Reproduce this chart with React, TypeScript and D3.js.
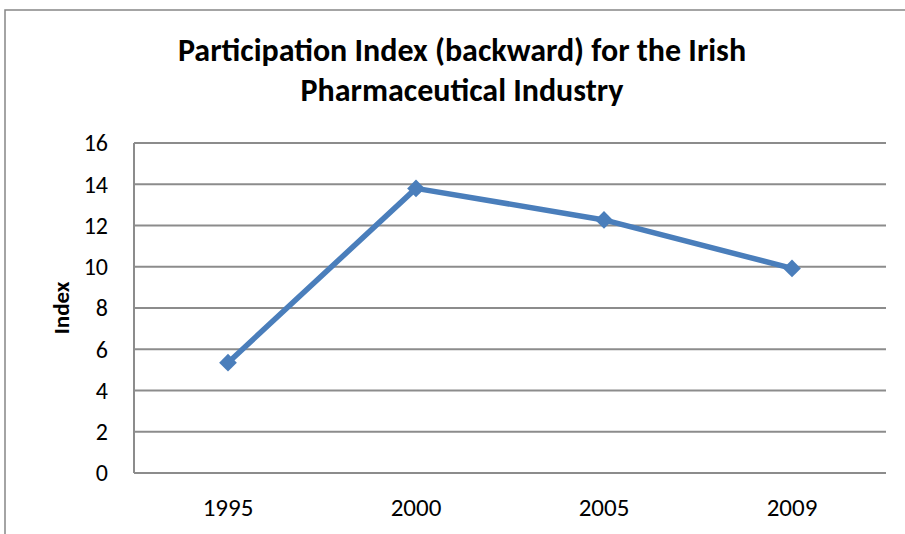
import React from 'react';
import * as d3 from 'd3';

const years = ['1995', '2000', '2005', '2009'];
const indexValues = [5.35, 13.8, 12.27, 9.92];
const yTicks = [0, 2, 4, 6, 8, 10, 12, 14, 16];
const titleLines = ['Participation Index (backward) for the Irish', 'Pharmaceutical Industry'];

const W = 905;
const H = 534;
const margin = { top: 143, right: 19, bottom: 61, left: 134 };
const font = 'Carlito, Calibri, "Open Sans", sans-serif';

export default function App() {
  const x = d3.scaleBand()
    .domain(years)
    .range([margin.left, W - margin.right]);

  const y = d3.scaleLinear()
    .domain([0, 16])
    .range([H - margin.bottom, margin.top]);

  const line = d3.line<number>()
    .x((d, i) => x(years[i])! + x.bandwidth() / 2)
    .y(d => y(d));

  const diamond = d3.symbol().type(d3.symbolDiamond2).size(200)();

  return (
    <svg width={W} height={H} style={{ position: 'absolute', left: 0, top: 0, background: '#fff' }}>
      {/* outer chart frame */}
      <rect x={5} y={10} width={W + 10} height={H + 10} fill="none" stroke="#868686" strokeWidth={1.5} />

      {titleLines.map((t, i) => (
        <text key={t} x={462} y={61 + i * 40} textAnchor="middle"
          fontFamily={font} fontWeight="bold" fontSize={32} fill="#000">{t}</text>
      ))}

      {/* gridlines */}
      {yTicks.map(t => (
        <line key={t} x1={margin.left} x2={W - margin.right} y1={y(t)} y2={y(t)}
          stroke="#8c8c8c" strokeWidth={2} />
      ))}
      <line x1={margin.left} x2={margin.left} y1={y(0)} y2={y(16)} stroke="#8c8c8c" strokeWidth={2} />

      {/* y tick labels */}
      {yTicks.map(t => (
        <text key={t} x={margin.left - 26} y={y(t)} dy="0.35em" textAnchor="end"
          fontFamily={font} fontSize={24} fill="#000">{t}</text>
      ))}

      {/* x labels */}
      {years.map(yr => (
        <text key={yr} x={x(yr)! + x.bandwidth() / 2} y={H - 18} textAnchor="middle"
          fontFamily={font} fontSize={25} fill="#000">{yr}</text>
      ))}

      <text transform={`translate(69,${(y(0) + y(16)) / 2}) rotate(-90)`} textAnchor="middle"
        fontFamily={font} fontWeight="bold" fontSize={23} fill="#000">Index</text>

      <path d={line(indexValues)!} fill="none" stroke="#4A7EBB" strokeWidth={5.5} strokeLinejoin="round" />
      {indexValues.map((v, i) => (
        <path key={i} d={diamond!} transform={`translate(${x(years[i])! + x.bandwidth() / 2},${y(v)})`}
          fill="#4A7EBB" />
      ))}
    </svg>
  );
}
